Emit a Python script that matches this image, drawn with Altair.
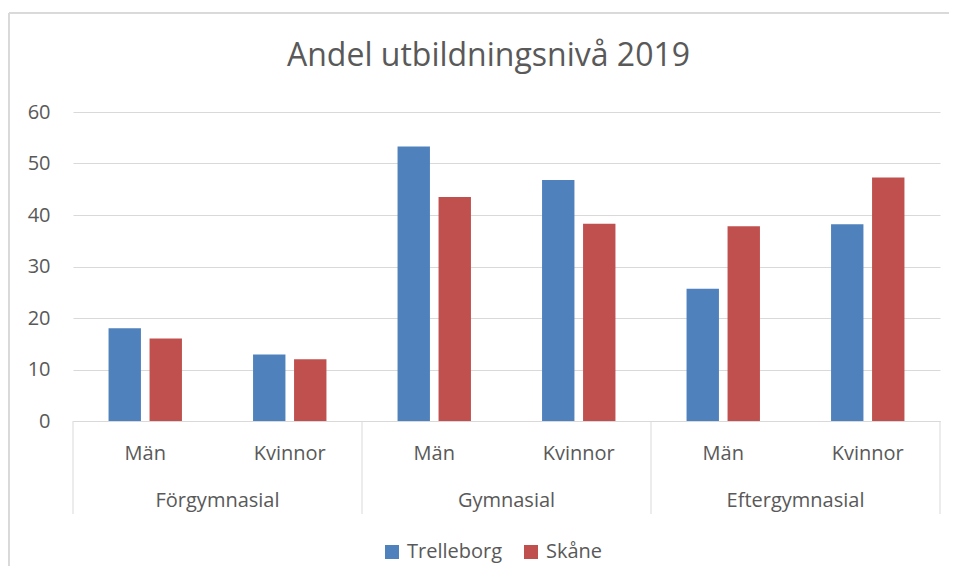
import altair as alt
import pandas as pd

title_text = ["Andel utbildningsnivå 2019"]
groups = ["Förgymnasial", "Förgymnasial", "Gymnasial", "Gymnasial", "Eftergymnasial", "Eftergymnasial"]
genders = ["Män", "Kvinnor", "Män", "Kvinnor", "Män", "Kvinnor"]
trelleborg = [18.0, 12.9, 53.3, 46.8, 25.7, 38.2]
skane = [16.0, 12.0, 43.5, 38.3, 37.8, 47.3]
series = ["Trelleborg", "Skåne"]
colors = ["#4F81BD", "#C0504D"]
y_ticks = [0, 10, 20, 30, 40, 50, 60]

W, H = 867, 309
FONT = "Open Sans"
TXT = "#595959"
GRID = "#D9D9D9"

keys = [f"{g}|{s}" for g, s in zip(groups, genders)]
rows = []
for k, g, s, t, sk in zip(keys, groups, genders, trelleborg, skane):
    rows.append({"key": k, "group": g, "gender": s, "series": "Trelleborg", "value": t})
    rows.append({"key": k, "group": g, "gender": s, "series": "Skåne", "value": sk})
df = pd.DataFrame(rows)
cat_df = pd.DataFrame({"key": keys, "group": groups, "gender": genders})
title_df = pd.DataFrame({"title": title_text})

xscale = alt.Scale(domain=keys, paddingInner=0, paddingOuter=0)

bars = alt.Chart(df).mark_bar().encode(
    x=alt.X("key:N", scale=xscale, sort=keys, title=None,
            axis=alt.Axis(labelExpr="split(datum.label, '|')[1]", labelAngle=0,
                          ticks=False, domain=True, domainColor=GRID, domainWidth=1,
                          labelFontSize=20, labelFont=FONT, labelColor=TXT,
                          labelPadding=22, grid=False)),
    xOffset=alt.XOffset("series:N", sort=series,
                        scale=alt.Scale(domain=series, paddingInner=0.21, paddingOuter=0.867)),
    y=alt.Y("value:Q", scale=alt.Scale(domain=[0, 60], nice=False), title=None,
            axis=alt.Axis(values=y_ticks, ticks=False, domain=False, grid=True,
                          gridColor=GRID, gridWidth=1, labelFontSize=20, labelFont=FONT,
                          labelColor=TXT, labelPadding=23)),
    color=alt.Color("series:N", sort=series,
                    scale=alt.Scale(domain=series, range=colors),
                    legend=alt.Legend(title=None, orient="none", legendX=309, legendY=430,
                                      direction="horizontal", symbolType="square",
                                      symbolSize=196, symbolStrokeWidth=0,
                                      labelFontSize=20, labelFont=FONT, labelColor=TXT,
                                      labelOffset=5, columnPadding=18, padding=0)),
)

sep_left = alt.Chart(cat_df).transform_filter(alt.datum.gender == "Män").mark_rule(
    color=GRID, strokeWidth=1).encode(
    x=alt.X("key:N", scale=xscale, sort=keys, bandPosition=0),
    y=alt.value(H), y2=alt.value(H + 93))

sep_right = alt.Chart(cat_df).transform_filter(alt.datum.key == keys[-1]).mark_rule(
    color=GRID, strokeWidth=1).encode(
    x=alt.X("key:N", scale=xscale, sort=keys, bandPosition=1),
    y=alt.value(H), y2=alt.value(H + 93))

group_labels = alt.Chart(cat_df).transform_filter(alt.datum.gender == "Kvinnor").mark_text(
    fontSize=20, font=FONT, color=TXT, baseline="alphabetic", align="center").encode(
    x=alt.X("key:N", scale=xscale, sort=keys, bandPosition=0),
    y=alt.value(H + 85.5),
    text="group:N")

title = alt.Chart(title_df).mark_text(
    fontSize=32, font=FONT, color=TXT, baseline="alphabetic", align="center").encode(
    x=alt.value(W / 2 - 18), y=alt.value(-46.3), text="title:N")

frame_left = alt.Chart(cat_df).mark_rule(color=GRID, strokeWidth=1).encode(
    x=alt.value(-64), y=alt.value(-99), y2=alt.value(H + 200))
frame_top = alt.Chart(cat_df).mark_rule(color=GRID, strokeWidth=1).encode(
    x=alt.value(-64), x2=alt.value(W + 60), y=alt.value(-99))

chart = alt.layer(frame_left, frame_top, bars, sep_left, sep_right, group_labels, title).properties(
    width=W, height=H,
    autosize=alt.AutoSizeParams(type="none"),
    padding={"left": 65, "top": 104, "right": 9, "bottom": 145},
).configure(background="white").configure_view(stroke=None)

chart.save("out.html", embed_options={"renderer": "svg", "actions": False})
